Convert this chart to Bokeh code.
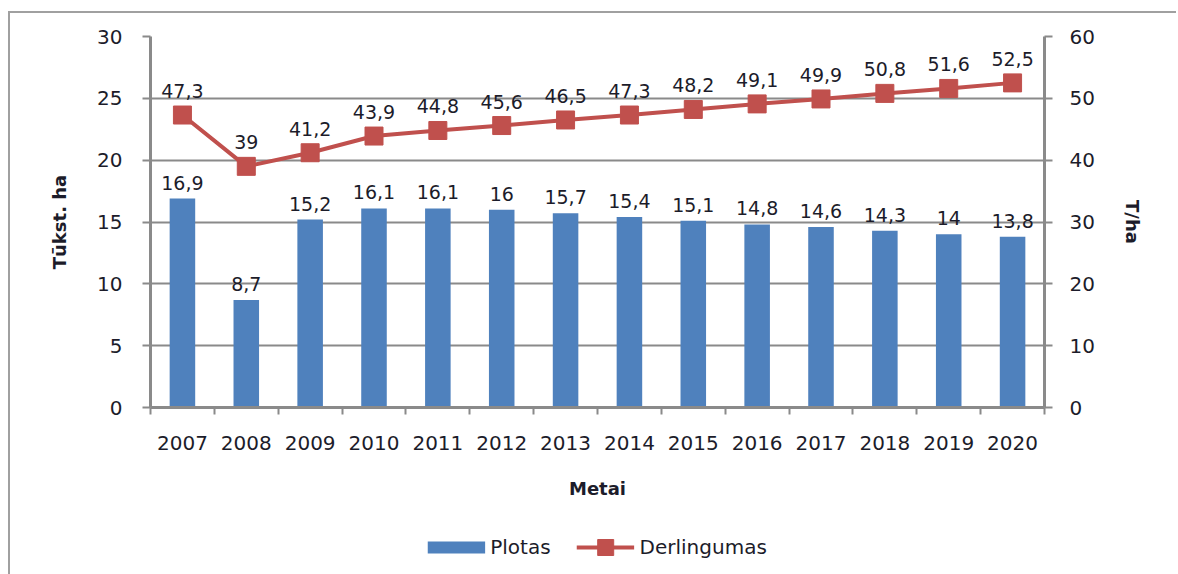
from bokeh.plotting import figure
from bokeh.layouts import column
from bokeh.models import (Range1d, LinearAxis, FixedTicker, ColumnDataSource,
                          Legend, LegendItem)
from bokeh.embed import file_html
from bokeh.resources import INLINE
from bokeh.core.properties import value

years = ["2007", "2008", "2009", "2010", "2011", "2012", "2013", "2014",
         "2015", "2016", "2017", "2018", "2019", "2020"]
plotas = [16.9, 8.7, 15.2, 16.1, 16.1, 16.0, 15.7, 15.4, 15.1, 14.8, 14.6, 14.3, 14.0, 13.8]
derlingumas = [47.3, 39.0, 41.2, 43.9, 44.8, 45.6, 46.5, 47.3, 48.2, 49.1, 49.9, 50.8, 51.6, 52.5]
left_ticks = [0, 5, 10, 15, 20, 25, 30]
right_ticks = [0, 10, 20, 30, 40, 50, 60]
series_names = ["Plotas", "Derlingumas"]


def fmt(v):
    s = ("%g" % v)
    return s.replace(".", ",")


xpos = [i + 0.5 for i in range(len(years))]
src = ColumnDataSource(dict(
    x=xpos, plotas=plotas, derl=derlingumas,
    plab=[fmt(v) for v in plotas], dlab=[fmt(v) for v in derlingumas],
))

FONT = "DejaVu Sans"
GRAY = "#8a8a8a"
TXT = "#1c1c2a"
BLUE = "#4F81BD"
RED = "#C0504D"
W = 1166

p = figure(width=W, height=500, output_backend="svg", toolbar_location=None,
           x_range=Range1d(0, len(years)), y_range=Range1d(0, 30),
           min_border_left=140, min_border_right=132, min_border_top=23,
           min_border_bottom=106)
p.outline_line_color = None
p.background_fill_color = "white"
p.border_fill_color = "white"

p.extra_y_ranges = {"y2": Range1d(0, 60)}

# bars
bars = p.vbar(x="x", top="plotas", width=0.4, source=src, fill_color=BLUE,
              line_color=None)
# line
ln = p.line(x="x", y="derl", source=src, y_range_name="y2", line_color=RED,
            line_width=4)
mk = p.scatter(x="x", y="derl", source=src, y_range_name="y2", marker="square",
               size=18, fill_color=RED, line_color=RED)

# data labels
p.text(x="x", y="plotas", text="plab", source=src, text_align="center",
       text_baseline="alphabetic", y_offset=-16, text_font=value(FONT),
       text_font_size="19px", text_color=TXT)
p.text(x="x", y="derl", text="dlab", source=src, y_range_name="y2",
       text_align="center", text_baseline="alphabetic", y_offset=-24,
       text_font=value(FONT), text_font_size="19px", text_color=TXT)

# x axis
xa = p.xaxis[0]
xa.ticker = FixedTicker(ticks=xpos, minor_ticks=list(range(len(years) + 1)))
xa.major_label_overrides = {x: y for x, y in zip(xpos, years)}
xa.major_tick_out = 0
xa.major_tick_in = 0
xa.minor_tick_out = 7
xa.minor_tick_in = 0
xa.minor_tick_line_color = GRAY
xa.minor_tick_line_width = 2
xa.axis_line_color = GRAY
xa.axis_line_width = 3
xa.major_label_standoff = 21
xa.major_label_text_font = FONT
xa.major_label_text_font_size = "20px"
xa.major_label_text_color = TXT
xa.axis_label = "Metai"
xa.axis_label_text_font = FONT
xa.axis_label_text_font_size = "18px"
xa.axis_label_text_font_style = "bold"
xa.axis_label_text_color = TXT
xa.axis_label_standoff = 25

# left y axis
ya = p.yaxis[0]
ya.ticker = FixedTicker(ticks=left_ticks)
ya.major_tick_out = 8
ya.major_tick_in = 0
ya.minor_tick_line_color = None
ya.major_tick_line_color = GRAY
ya.major_tick_line_width = 2
ya.axis_line_color = GRAY
ya.axis_line_width = 3
ya.major_label_standoff = 20
ya.major_label_text_font = FONT
ya.major_label_text_font_size = "20px"
ya.major_label_text_color = TXT
ya.axis_label = "Tūkst. ha"
ya.axis_label_text_font = FONT
ya.axis_label_text_font_size = "18px"
ya.axis_label_text_font_style = "bold"
ya.axis_label_text_color = TXT
ya.axis_label_standoff = 24

# right y axis
ra = LinearAxis(y_range_name="y2", ticker=FixedTicker(ticks=right_ticks))
ra.major_tick_out = 8
ra.major_tick_in = 0
ra.minor_tick_line_color = None
ra.major_tick_line_color = GRAY
ra.major_tick_line_width = 2
ra.axis_line_color = GRAY
ra.axis_line_width = 3
ra.major_label_standoff = 17
ra.major_label_text_font = FONT
ra.major_label_text_font_size = "20px"
ra.major_label_text_color = TXT
ra.axis_label = "T/ha"
ra.axis_label_text_font = FONT
ra.axis_label_text_font_size = "18px"
ra.axis_label_text_font_style = "bold"
ra.axis_label_text_color = TXT
ra.axis_label_standoff = 24
p.add_layout(ra, "right")

p.xgrid.grid_line_color = None
p.ygrid.ticker = FixedTicker(ticks=left_ticks)
p.ygrid.grid_line_color = GRAY
p.ygrid.grid_line_width = 2

# legend strip below the chart
lf = figure(width=W, height=61, output_backend="svg", toolbar_location=None,
            x_range=Range1d(0, 1), y_range=Range1d(0, 1),
            x_axis_location=None, y_axis_location=None,
            min_border_left=8, min_border_right=0, min_border_top=6,
            min_border_bottom=0)
lf.outline_line_color = None
lf.grid.grid_line_color = None
nan = float("nan")
sw = lf.line(x=[nan], y=[nan], line_color=BLUE, line_width=12, line_cap="butt")
l2 = lf.line(x=[nan], y=[nan], line_color=RED, line_width=4)
m2 = lf.scatter(x=[nan], y=[nan], marker="square", size=18, fill_color=RED,
                line_color=RED)
leg = Legend(items=[LegendItem(label=series_names[0], renderers=[sw]),
                    LegendItem(label=series_names[1], renderers=[l2, m2])],
             orientation="horizontal", location="center",
             glyph_width=58, glyph_height=40, spacing=26,
             label_text_font=FONT, label_text_font_size="20px",
             label_text_color=TXT, border_line_color=None,
             background_fill_alpha=0, padding=0, margin=0, label_standoff=5)
lf.add_layout(leg)

lay = column(p, lf, spacing=0)
lay.styles = {"border-top": "2px solid #a0a0a0", "border-left": "2px solid #a0a0a0",
              "margin-left": "8px", "margin-top": "11px"}

open("out.html", "w").write(file_html(lay, INLINE))
